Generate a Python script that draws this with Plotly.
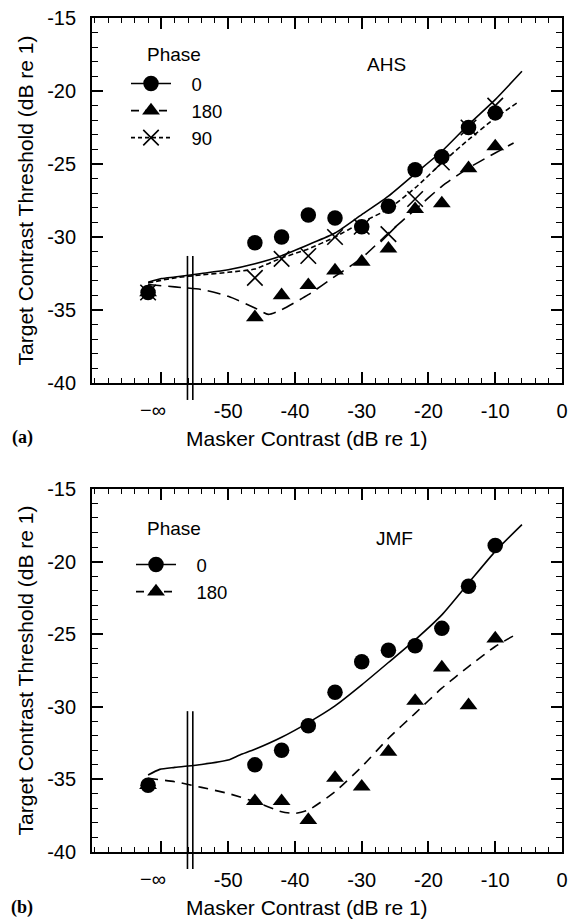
import plotly.graph_objects as go

# ---------------- data ----------------
# masker contrast (dB re 1); -62 is the plotting position used for "-inf"
mask_x = [-62, -46, -42, -38, -34, -30, -26, -22, -18, -14, -10]

# Panel (a) AHS  -- measured thresholds
ahs_p0 = [-33.8, -30.4, -30.0, -28.5, -28.7, -29.3, -27.9, -25.4, -24.5, -22.5, -21.5]
ahs_p180 = [-33.8, -35.5, -34.0, -33.3, -32.3, -31.7, -30.8, -28.1, -27.7, -25.3, -23.8]
ahs_p90 = [-33.8, -32.8, -31.5, -31.3, -30.0, -29.3, -29.8, -27.4, -24.9, -22.5, -21.0]

# Panel (a) model curves
ahs_c0_x = [-62, -60, -58, -54, -50, -46, -42, -38, -34, -30, -26, -22, -18, -14, -10, -6]
ahs_c0_y = [-33.1, -32.85, -32.74, -32.5, -32.24, -31.83, -31.28, -30.53, -29.73, -28.47, -27.2,
            -25.66, -24.13, -22.3, -20.59, -18.65]
ahs_c90_x = [-62, -58, -54, -50, -46, -42, -38, -34, -30, -26, -22, -18, -14, -10, -6.75]
ahs_c90_y = [-33.15, -32.8, -32.6, -32.42, -32.19, -31.44, -30.82, -30.0, -29.0, -28.08,
             -26.64, -24.93, -23.33, -21.85, -20.82]
ahs_c180_x = [-62, -58, -54, -50, -46, -44, -42, -38, -34, -30, -26, -22, -18, -14, -10, -7.25]
ahs_c180_y = [-33.26, -33.42, -33.6, -34.06, -34.86, -35.3, -34.98, -33.95, -32.7, -31.44,
              -29.73, -28.13, -26.53, -25.27, -24.25, -23.56]

# Panel (b) JMF -- measured thresholds
jmf_p0 = [-35.4, -34.0, -33.0, -31.3, -29.0, -26.9, -26.1, -25.8, -24.6, -21.7, -18.9]
jmf_p180 = [-35.4, -36.5, -36.5, -37.8, -34.9, -35.5, -33.1, -29.6, -27.3, -29.9, -25.3]

# Panel (b) model curves
jmf_c0_x = [-62, -60.25, -58, -54, -50, -48.25, -46, -42, -38, -34, -30, -26, -22, -18, -14, -10, -6]
jmf_c0_y = [-34.7, -34.31, -34.17, -33.97, -33.67, -33.32, -32.93, -32.1, -31.09, -29.94,
            -28.49, -26.95, -25.39, -23.67, -21.48, -19.3, -17.46]
jmf_c180_x = [-62, -58, -54, -50, -46, -42, -40, -38, -34, -30, -26, -22, -18, -14, -10, -7.25]
jmf_c180_y = [-34.93, -35.16, -35.55, -35.97, -36.54, -37.23, -37.34, -37.11, -35.85, -34.13,
              -32.17, -30.45, -28.72, -27.23, -25.85, -25.11]

x_tickvals = [-60, -50, -40, -30, -20, -10, 0]
x_ticktext = ["", "-50", "-40", "-30", "-20", "-10", "0"]
y_tickvals = [-40, -35, -30, -25, -20, -15]
y_ticktext = ["-40", "-35", "-30", "-25", "-20", "-15"]
inf_pos = -61.3
inf_label = "\u2212\u221e"
break_x = [-56.1, -55.3]
break_top = {"a": -31.3, "b": -30.3}
x_title = "Masker Contrast (dB re 1)"
y_title = "Target Contrast Threshold (dB re 1)"
legend_names = ["0", "180", "90"]

X_RANGE = [-70.4, 0]
Y_RANGE = [-40, -15]
DOM_A = [0.5624, 1.0]
DOM_B = [0.0, 0.4353]

FONT = "Liberation Sans, Arial, Helvetica, sans-serif"
W, H = 575, 922
ML, MR, MT, MB = 92, 13, 18, 70
plot_h = H - MT - MB
plot_w = W - ML - MR
PAD = "\u00a0\u00a0\u00a0"

fig = go.Figure()
LW = 1.6
MS = 15.5

# ----- panel (a) -----
fig.add_trace(go.Scatter(x=ahs_c0_x, y=ahs_c0_y, mode="lines",
                         line=dict(color="black", width=LW, shape="spline", smoothing=0.6),
                         showlegend=False, xaxis="x", yaxis="y"))
fig.add_trace(go.Scatter(x=ahs_c180_x, y=ahs_c180_y, mode="lines",
                         line=dict(color="black", width=LW, dash="13px,7px", shape="spline", smoothing=0.6),
                         showlegend=False, xaxis="x", yaxis="y"))
fig.add_trace(go.Scatter(x=ahs_c90_x, y=ahs_c90_y, mode="lines",
                         line=dict(color="black", width=LW, dash="5px,3px", shape="spline", smoothing=0.6),
                         showlegend=False, xaxis="x", yaxis="y"))
fig.add_trace(go.Scatter(x=mask_x, y=ahs_p0, mode="markers", name="0",
                         marker=dict(symbol="circle", size=MS, color="black"),
                         showlegend=False, xaxis="x", yaxis="y"))
fig.add_trace(go.Scatter(x=mask_x, y=ahs_p180, mode="markers", name="180",
                         marker=dict(symbol="triangle-up", size=MS, color="black"),
                         showlegend=False, xaxis="x", yaxis="y"))
fig.add_trace(go.Scatter(x=mask_x, y=ahs_p90, mode="markers", name="90",
                         marker=dict(symbol="x-thin-open", size=MS, color="black", line=dict(width=LW, color="black")),
                         showlegend=False, xaxis="x", yaxis="y"))

# legend entries (line + marker) for panel (a)
fig.add_trace(go.Scatter(x=[None], y=[None], mode="lines+markers", name=PAD + legend_names[0],
                         marker=dict(symbol="circle", size=MS, color="black"),
                         line=dict(color="black", width=LW), legend="legend", xaxis="x", yaxis="y"))
fig.add_trace(go.Scatter(x=[None], y=[None], mode="lines+markers", name=PAD + legend_names[1],
                         marker=dict(symbol="triangle-up", size=MS, color="black"),
                         line=dict(color="black", width=LW, dash="8px,6px"), legend="legend", xaxis="x", yaxis="y"))
fig.add_trace(go.Scatter(x=[None], y=[None], mode="lines+markers", name=PAD + legend_names[2],
                         marker=dict(symbol="x-thin-open", size=MS, color="black", line=dict(width=LW, color="black")),
                         line=dict(color="black", width=LW, dash="4px,3px"), legend="legend", xaxis="x", yaxis="y"))

# ----- panel (b) -----
fig.add_trace(go.Scatter(x=jmf_c0_x, y=jmf_c0_y, mode="lines",
                         line=dict(color="black", width=LW, shape="spline", smoothing=0.6),
                         showlegend=False, xaxis="x2", yaxis="y2"))
fig.add_trace(go.Scatter(x=jmf_c180_x, y=jmf_c180_y, mode="lines",
                         line=dict(color="black", width=LW, dash="10px,7px", shape="spline", smoothing=0.6),
                         showlegend=False, xaxis="x2", yaxis="y2"))
fig.add_trace(go.Scatter(x=mask_x, y=jmf_p180, mode="markers", name="180",
                         marker=dict(symbol="triangle-up", size=MS, color="black"),
                         showlegend=False, xaxis="x2", yaxis="y2"))
fig.add_trace(go.Scatter(x=mask_x, y=jmf_p0, mode="markers", name="0",
                         marker=dict(symbol="circle", size=MS, color="black"),
                         showlegend=False, xaxis="x2", yaxis="y2"))
fig.add_trace(go.Scatter(x=[None], y=[None], mode="lines+markers", name=PAD + legend_names[0],
                         marker=dict(symbol="circle", size=MS, color="black"),
                         line=dict(color="black", width=LW), legend="legend2", xaxis="x2", yaxis="y2"))
fig.add_trace(go.Scatter(x=[None], y=[None], mode="lines+markers", name=PAD + legend_names[1],
                         marker=dict(symbol="triangle-up", size=MS, color="black"),
                         line=dict(color="black", width=LW, dash="8px,6px"), legend="legend2", xaxis="x2", yaxis="y2"))


def xaxis_cfg(anchor):
    return dict(range=X_RANGE, domain=[0, 1], anchor=anchor, automargin=False,
                tickmode="array", tickvals=x_tickvals, ticktext=x_ticktext,
                ticks="inside", ticklen=11, tickwidth=1.5, tickcolor="black",
                minor=dict(tickmode="linear", tick0=0, dtick=2, ticks="inside", ticklen=5.5,
                           tickwidth=1.3, tickcolor="black"),
                showline=True, linecolor="black", linewidth=1.8, mirror="allticks",
                showgrid=False, zeroline=False, ticklabelstandoff=9,
                tickfont=dict(family=FONT, size=20, color="black"))


def yaxis_cfg(anchor, dom):
    return dict(range=Y_RANGE, domain=dom, anchor=anchor, automargin=False,
                tickmode="array", tickvals=y_tickvals, ticktext=y_ticktext,
                ticks="inside", ticklen=11, tickwidth=1.5, tickcolor="black",
                minor=dict(tickmode="linear", tick0=0, dtick=1, ticks="inside", ticklen=6,
                           tickwidth=1.3, tickcolor="black"),
                showline=True, linecolor="black", linewidth=1.8, mirror="allticks",
                showgrid=False, zeroline=False, ticklabelstandoff=10,
                tickfont=dict(family=FONT, size=20, color="black"),
                title=dict(text=y_title, font=dict(family=FONT, size=21, color="black"), standoff=8))


def py(v, dom):
    return dom[0] + (v - Y_RANGE[0]) / (Y_RANGE[1] - Y_RANGE[0]) * (dom[1] - dom[0])


def px_(v):
    return (v - X_RANGE[0]) / (X_RANGE[1] - X_RANGE[0])


def ypix(p):  # pixel row -> paper y
    return (H - MB - p) / plot_h


def xpix(p):  # pixel column -> paper x
    return (p - ML) / plot_w


shapes = []
for dom, top in ((DOM_A, break_top["a"]), (DOM_B, break_top["b"])):
    y1 = py(top, dom)
    y0 = dom[0] - 17 / plot_h
    for bx in break_x:
        shapes.append(dict(type="line", xref="paper", yref="paper", x0=px_(bx), x1=px_(bx), y0=y0, y1=y1,
                           line=dict(color="black", width=LW), layer="above"))

annotations = []
for dom, xr in ((DOM_A, "x"), (DOM_B, "x2")):
    annotations.append(dict(x=inf_pos, xref=xr, y=dom[0] - 27 / plot_h, yref="paper", text=inf_label,
                            showarrow=False, xanchor="center", yanchor="middle",
                            font=dict(family=FONT, size=20, color="black")))


def note(x, y, text, size=19, family=FONT):
    annotations.append(dict(x=xpix(x), xref="paper", y=ypix(y), yref="paper", text=text, showarrow=False,
                            xanchor="center", yanchor="middle", font=dict(family=family, size=size, color="black")))


note(307, 438, x_title, 21)
note(307, 907, x_title, 21)
note(174, 55, "Phase")
note(174, 528, "Phase")
note(386, 65, "AHS")
note(394, 538, "JMF")
note(22, 437, "<b>(a)</b>", 18, "Liberation Serif, Times New Roman, serif")
note(22, 907, "<b>(b)</b>", 18, "Liberation Serif, Times New Roman, serif")

legend_common = dict(font=dict(family=FONT, size=18.5, color="black"), bgcolor="rgba(0,0,0,0)",
                     borderwidth=0, xanchor="left", yanchor="top", itemwidth=40, tracegroupgap=0)

fig.update_layout(
    width=W, height=H,
    margin=dict(l=ML, r=MR, t=MT, b=MB, autoexpand=False),
    paper_bgcolor="white", plot_bgcolor="white",
    xaxis=xaxis_cfg("y"), yaxis=yaxis_cfg("x", DOM_A),
    xaxis2=xaxis_cfg("y2"), yaxis2=yaxis_cfg("x2", DOM_B),
    legend=dict(x=xpix(126), y=ypix(65), **legend_common),
    legend2=dict(x=xpix(131), y=ypix(546), **legend_common),
    shapes=shapes, annotations=annotations,
    font=dict(family=FONT, color="black"),
)

fig.write_html("out.html", config={"displayModeBar": False},
               post_script="document.body.style.margin='0';")
